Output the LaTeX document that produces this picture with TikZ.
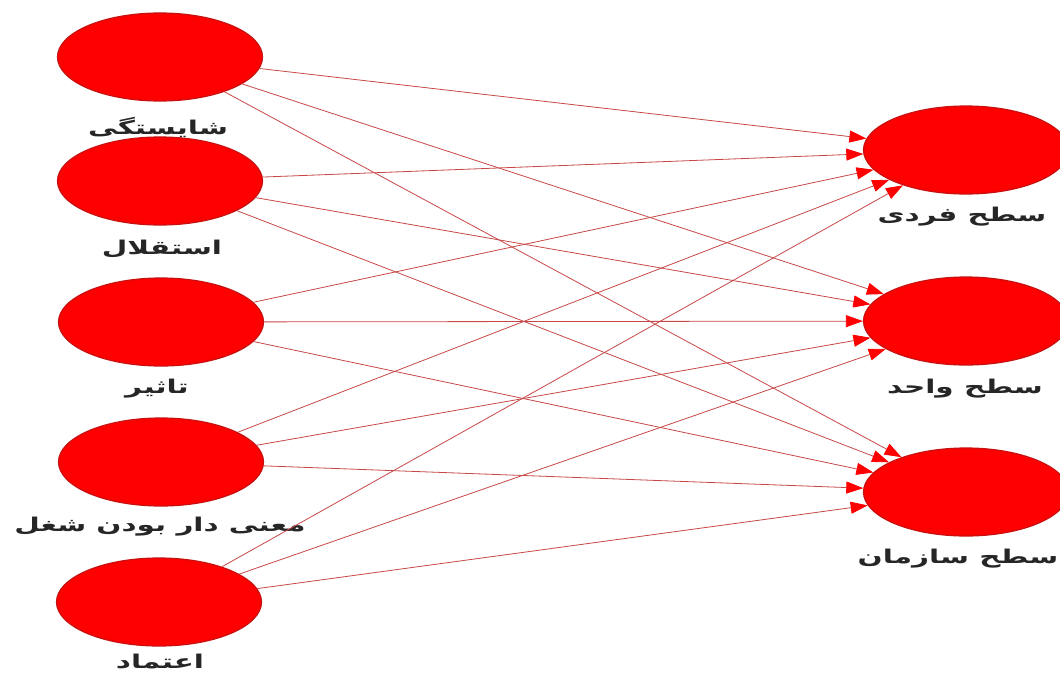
\documentclass[tikz,border=0pt]{standalone}
\usepackage{fontspec}
\usetikzlibrary{shapes.geometric,arrows.meta}
\TeXXeTstate=1
\newfontfamily\arabicfont[Script=Arabic,FakeStretch=1.55]{DejaVu Sans}
\definecolor{nodered}{HTML}{FF0000}
\definecolor{rimred}{HTML}{C81010}
\definecolor{linkred}{HTML}{C84848}
\begin{document}
\begin{tikzpicture}[x=1pt,y=-1pt,
  blob/.style={ellipse, fill=nodered, draw=rimred, line width=1.2pt,
    minimum width=205pt, minimum height=88pt, inner sep=0pt},
  lbl/.style={font=\arabicfont\bfseries\fontsize{19}{21}\selectfont, text=black!85, inner sep=0pt},
  link/.style={draw=linkred, line width=0.8pt,
    -{Triangle[length=17pt,width=12pt,fill=nodered,color=nodered]}}
]
\path[use as bounding box, fill=white] (0,0) rectangle (1060,675);

\node[blob] (l1) at (160,57) {};
\node[blob] (l2) at (160,181) {};
\node[blob] (l3) at (161,322) {};
\node[blob] (l4) at (161,462) {};
\node[blob] (l5) at (159,602) {};

\node[blob] (r1) at (966,150) {};
\node[blob] (r2) at (966,321) {};
\node[blob] (r3) at (966,492) {};

\node[lbl] (t1) at (158,127) {\beginR شایستگی\endR};
\node[lbl] (t2) at (162,249) {\beginR استقلال\endR};
\node[lbl] (t3) at (157,389) {\beginR تاثیر\endR};
\node[lbl] (t4) at (160,527) {\beginR معنی دار بودن شغل\endR};
\node[lbl] (t5) at (160,662) {\beginR اعتماد\endR};

\node[lbl] (u1) at (962,217) {\beginR سطح فردی\endR};
\node[lbl] (u2) at (965,389) {\beginR سطح واحد\endR};
\node[lbl] (u3) at (958,559) {\beginR سطح سازمان\endR};

\foreach \a in {l1,l2,l3,l4,l5}
  \foreach \b in {r1,r2,r3}
    \draw[link] (\a) -- (\b);
\end{tikzpicture}
\end{document}
